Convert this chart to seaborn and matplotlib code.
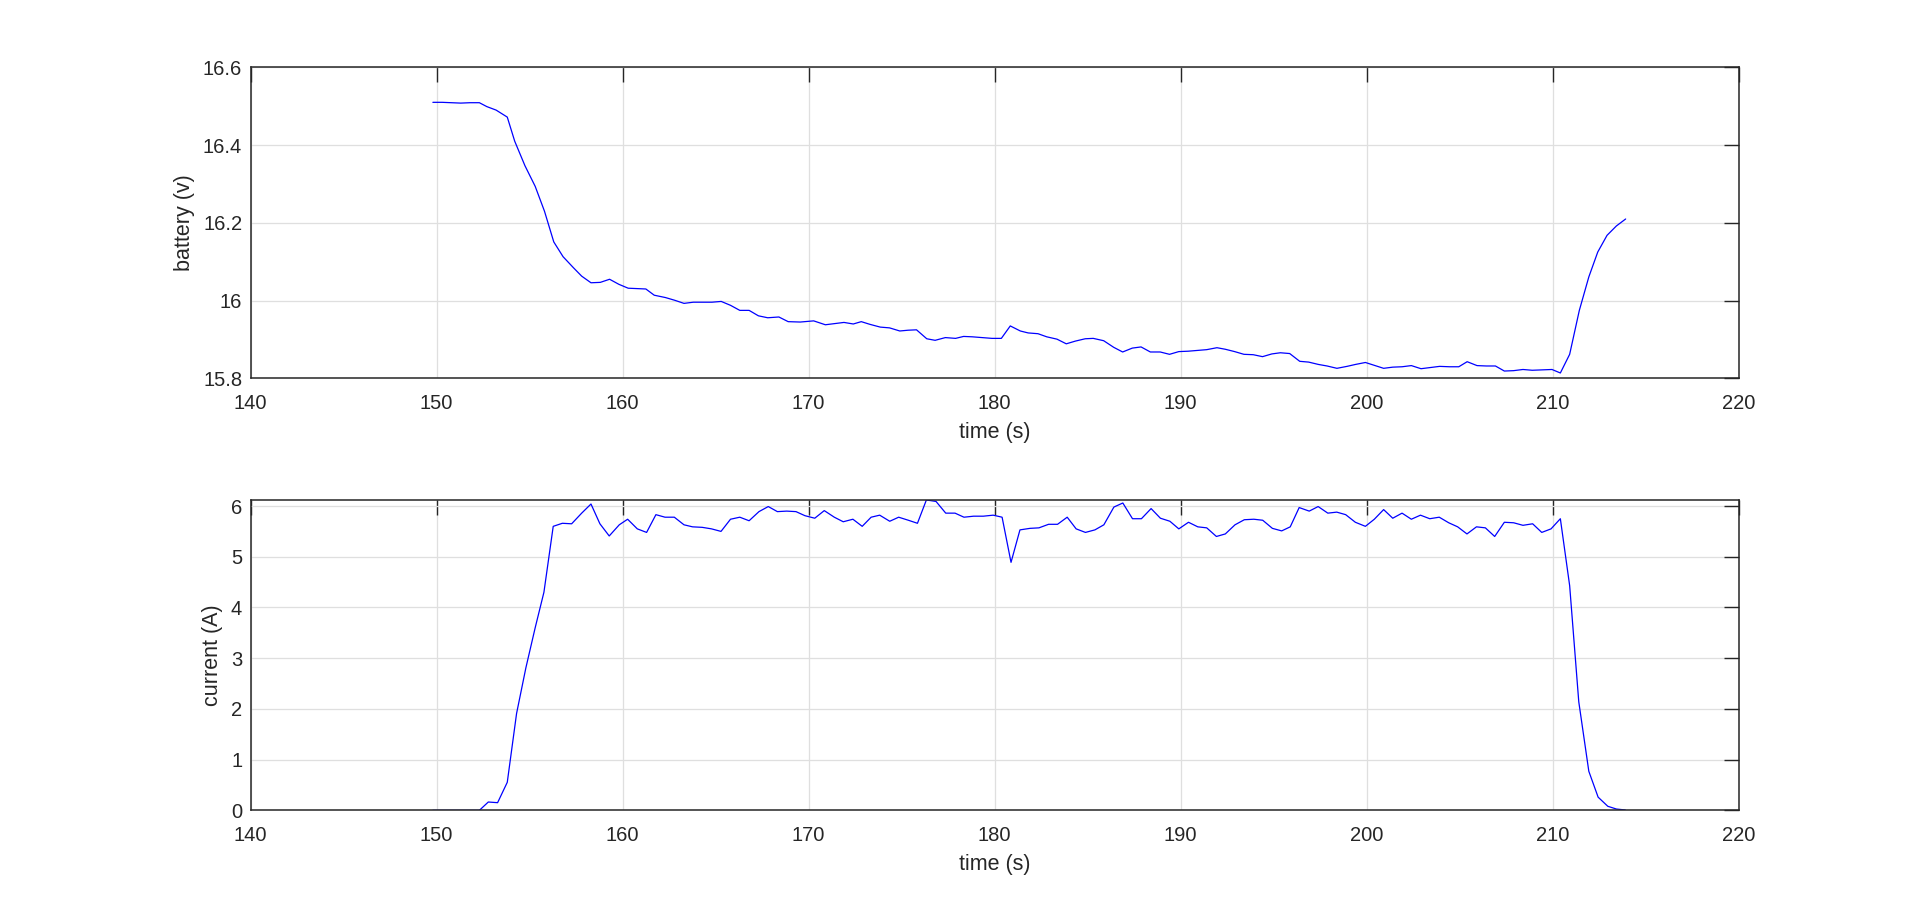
import numpy as np
import pandas as pd
import matplotlib
matplotlib.use("Agg")
import matplotlib.pyplot as plt
import seaborn as sns
from matplotlib.ticker import FuncFormatter

# ---- data ----
volt_time = [149.8, 150.3, 150.8, 151.3, 151.8, 152.3, 152.7, 153.2, 153.8, 154.2,
             154.75, 155.3, 155.8, 156.3, 156.8, 157.35, 157.8, 158.3, 158.8, 159.3,
             159.8, 160.3, 160.8, 161.25, 161.7, 162.3, 162.8, 163.3, 163.8, 164.3,
             164.8, 165.3, 165.8, 166.3, 166.8, 167.3, 167.8, 168.4, 168.9, 169.55,
             170.27, 170.9, 171.4, 171.9, 172.4, 172.83, 173.3, 173.85, 174.35, 174.9,
             175.35, 175.8, 176.35, 176.8, 177.35, 177.9, 178.33, 178.8, 179.3, 179.86,
             180.36, 180.84, 181.38, 181.8, 182.33, 182.8, 183.35, 183.85, 184.34, 184.87,
             185.3, 185.86, 186.4, 186.88, 187.4, 187.87, 188.37, 188.9, 189.4, 189.9,
             190.4, 190.9, 191.4, 191.95, 192.4, 192.9, 193.4, 193.9, 194.4, 194.9,
             195.36, 195.86, 196.4, 196.88, 197.4, 197.87, 198.4, 198.94, 199.4, 199.93,
             200.38, 200.91, 201.4, 201.9, 202.4, 202.92, 203.42, 203.92, 204.45, 204.95,
             205.4, 205.93, 206.43, 206.92, 207.4, 207.9, 208.4, 208.9, 209.43, 209.96,
             210.41, 210.91, 211.43, 211.94, 212.42, 212.92, 213.42, 213.92]
volt_value = [16.510, 16.510, 16.509, 16.508, 16.509, 16.509, 16.499, 16.490, 16.472, 16.410,
              16.347, 16.294, 16.230, 16.151, 16.113, 16.085, 16.063, 16.046, 16.047, 16.055,
              16.042, 16.032, 16.031, 16.030, 16.014, 16.008, 16.001, 15.993, 15.996, 15.996,
              15.996, 15.998, 15.988, 15.975, 15.975, 15.961, 15.956, 15.958, 15.946, 15.945,
              15.948, 15.938, 15.941, 15.944, 15.940, 15.946, 15.939, 15.932, 15.930, 15.922,
              15.924, 15.925, 15.902, 15.898, 15.905, 15.903, 15.908, 15.907, 15.905, 15.903,
              15.903, 15.935, 15.922, 15.917, 15.915, 15.907, 15.901, 15.889, 15.896, 15.902,
              15.903, 15.897, 15.880, 15.868, 15.878, 15.881, 15.868, 15.868, 15.862, 15.869,
              15.870, 15.872, 15.874, 15.879, 15.875, 15.869, 15.862, 15.861, 15.856, 15.863,
              15.866, 15.864, 15.844, 15.842, 15.836, 15.832, 15.826, 15.831, 15.836, 15.841,
              15.834, 15.826, 15.829, 15.830, 15.833, 15.825, 15.828, 15.831, 15.830, 15.830,
              15.843, 15.833, 15.832, 15.832, 15.819, 15.820, 15.823, 15.821, 15.822, 15.823,
              15.814, 15.862, 15.975, 16.061, 16.125, 16.168, 16.192, 16.210]

curr_time = [149.8, 150.3, 150.8, 151.3, 151.8, 152.3, 152.78, 153.28, 153.8, 154.3,
             154.8, 155.3, 155.77, 156.27, 156.76, 157.26, 157.8, 158.3, 158.78, 159.28,
             159.82, 160.27, 160.79, 161.29, 161.79, 162.28, 162.78, 163.3, 163.76, 164.28,
             164.78, 165.29, 165.8, 166.3, 166.8, 167.33, 167.83, 168.32, 168.82, 169.32,
             169.8, 170.33, 170.84, 171.38, 171.86, 172.38, 172.88, 173.36, 173.82, 174.36,
             174.84, 175.36, 175.85, 176.33, 176.85, 177.37, 177.87, 178.35, 178.87, 179.39,
             179.92, 180.4, 180.88, 181.36, 181.9, 182.38, 182.9, 183.38, 183.9, 184.38,
             184.88, 185.39, 185.87, 186.41, 186.89, 187.41, 187.89, 188.41, 188.91, 189.42,
             189.9, 190.42, 190.92, 191.4, 191.92, 192.4, 192.92, 193.42, 193.93, 194.41,
             194.93, 195.43, 195.89, 196.37, 196.91, 197.39, 197.91, 198.39, 198.87, 199.39,
             199.93, 200.41, 200.91, 201.4, 201.9, 202.4, 202.89, 203.39, 203.9, 204.41,
             204.89, 205.39, 205.9, 206.38, 206.88, 207.4, 207.9, 208.4, 208.92, 209.41,
             209.91, 210.41, 210.91, 211.4, 211.94, 212.44, 212.96, 213.42, 213.9]
curr_value = [0.0, 0.0, 0.0, 0.0, 0.0, 0.0, 0.164, 0.151, 0.553, 1.91,
              2.81, 3.60, 4.30, 5.60, 5.66, 5.65, 5.86, 6.04, 5.65, 5.41,
              5.63, 5.74, 5.55, 5.48, 5.83, 5.78, 5.78, 5.63, 5.59, 5.58,
              5.55, 5.50, 5.74, 5.78, 5.71, 5.89, 5.99, 5.89, 5.90, 5.89,
              5.81, 5.76, 5.91, 5.78, 5.69, 5.74, 5.60, 5.78, 5.82, 5.70,
              5.78, 5.72, 5.66, 6.12, 6.09, 5.86, 5.86, 5.78, 5.80, 5.80,
              5.82, 5.78, 4.89, 5.53, 5.56, 5.57, 5.64, 5.64, 5.78, 5.55,
              5.48, 5.53, 5.63, 5.98, 6.06, 5.75, 5.75, 5.95, 5.76, 5.70,
              5.55, 5.68, 5.59, 5.57, 5.40, 5.45, 5.63, 5.73, 5.74, 5.72,
              5.56, 5.51, 5.59, 5.97, 5.90, 5.99, 5.86, 5.88, 5.83, 5.68,
              5.60, 5.74, 5.93, 5.76, 5.86, 5.74, 5.82, 5.75, 5.78, 5.67,
              5.59, 5.45, 5.59, 5.57, 5.40, 5.68, 5.67, 5.62, 5.65, 5.48,
              5.55, 5.75, 4.43, 2.14, 0.77, 0.26, 0.08, 0.026, 0.007]

xticks = [140, 150, 160, 170, 180, 190, 200, 210, 220]
volt_yticks = [15.8, 16.0, 16.2, 16.4, 16.6]
curr_yticks = [0, 1, 2, 3, 4, 5, 6]

# ---- styling ----
sns.set_theme(style="white")
plt.rcParams['font.family'] = ['Liberation Sans', 'DejaVu Sans']

AX_COLOR = '#262626'
GRID_COLOR = '#dfdfdf'
LINE_COLOR = '#0000ff'

fig = plt.figure(figsize=(19.2, 9.11), dpi=100)
fig.patch.set_facecolor('white')
ax1 = fig.add_axes([0.1305, 0.5846, 0.7751, 0.3415])
ax2 = fig.add_axes([0.1305, 0.1105, 0.7751, 0.3407])

volt_df = pd.DataFrame({'time': volt_time, 'battery': volt_value})
curr_df = pd.DataFrame({'time': curr_time, 'current': curr_value})

sns.lineplot(data=volt_df, x='time', y='battery', ax=ax1, color=LINE_COLOR,
             linewidth=0.9, estimator=None, sort=False)
sns.lineplot(data=curr_df, x='time', y='current', ax=ax2, color=LINE_COLOR,
             linewidth=0.9, estimator=None, sort=False)

fmt = FuncFormatter(lambda v, p: '%g' % round(v, 6))

for ax, yt, ylim, ylabel in [(ax1, volt_yticks, (15.8, 16.6), 'battery (v)'),
                             (ax2, curr_yticks, (0, max(curr_value)), 'current (A)')]:
    ax.set_xlim(140, 220)
    ax.set_ylim(*ylim)
    ax.set_xticks(xticks)
    ax.set_yticks(yt)
    ax.xaxis.set_major_formatter(fmt)
    ax.yaxis.set_major_formatter(fmt)
    ax.grid(True, color=GRID_COLOR, linewidth=0.9)
    ax.set_axisbelow(True)
    for s in ax.spines.values():
        s.set_visible(True)
        s.set_color(AX_COLOR)
        s.set_linewidth(1.1)
    ax.tick_params(axis='both', which='major', direction='in', length=10.5, width=1.0,
                   color=AX_COLOR, labelcolor=AX_COLOR, labelsize=14.5,
                   top=True, right=True)
    ax.tick_params(axis='x', pad=11)
    ax.tick_params(axis='y', pad=6)
    ax.set_xlabel('time (s)', fontsize=15.5, color=AX_COLOR, labelpad=6.5)
    ax.set_ylabel(ylabel, fontsize=15.5, color=AX_COLOR, labelpad=6)

fig.savefig('out.png', dpi=100, facecolor='white')
